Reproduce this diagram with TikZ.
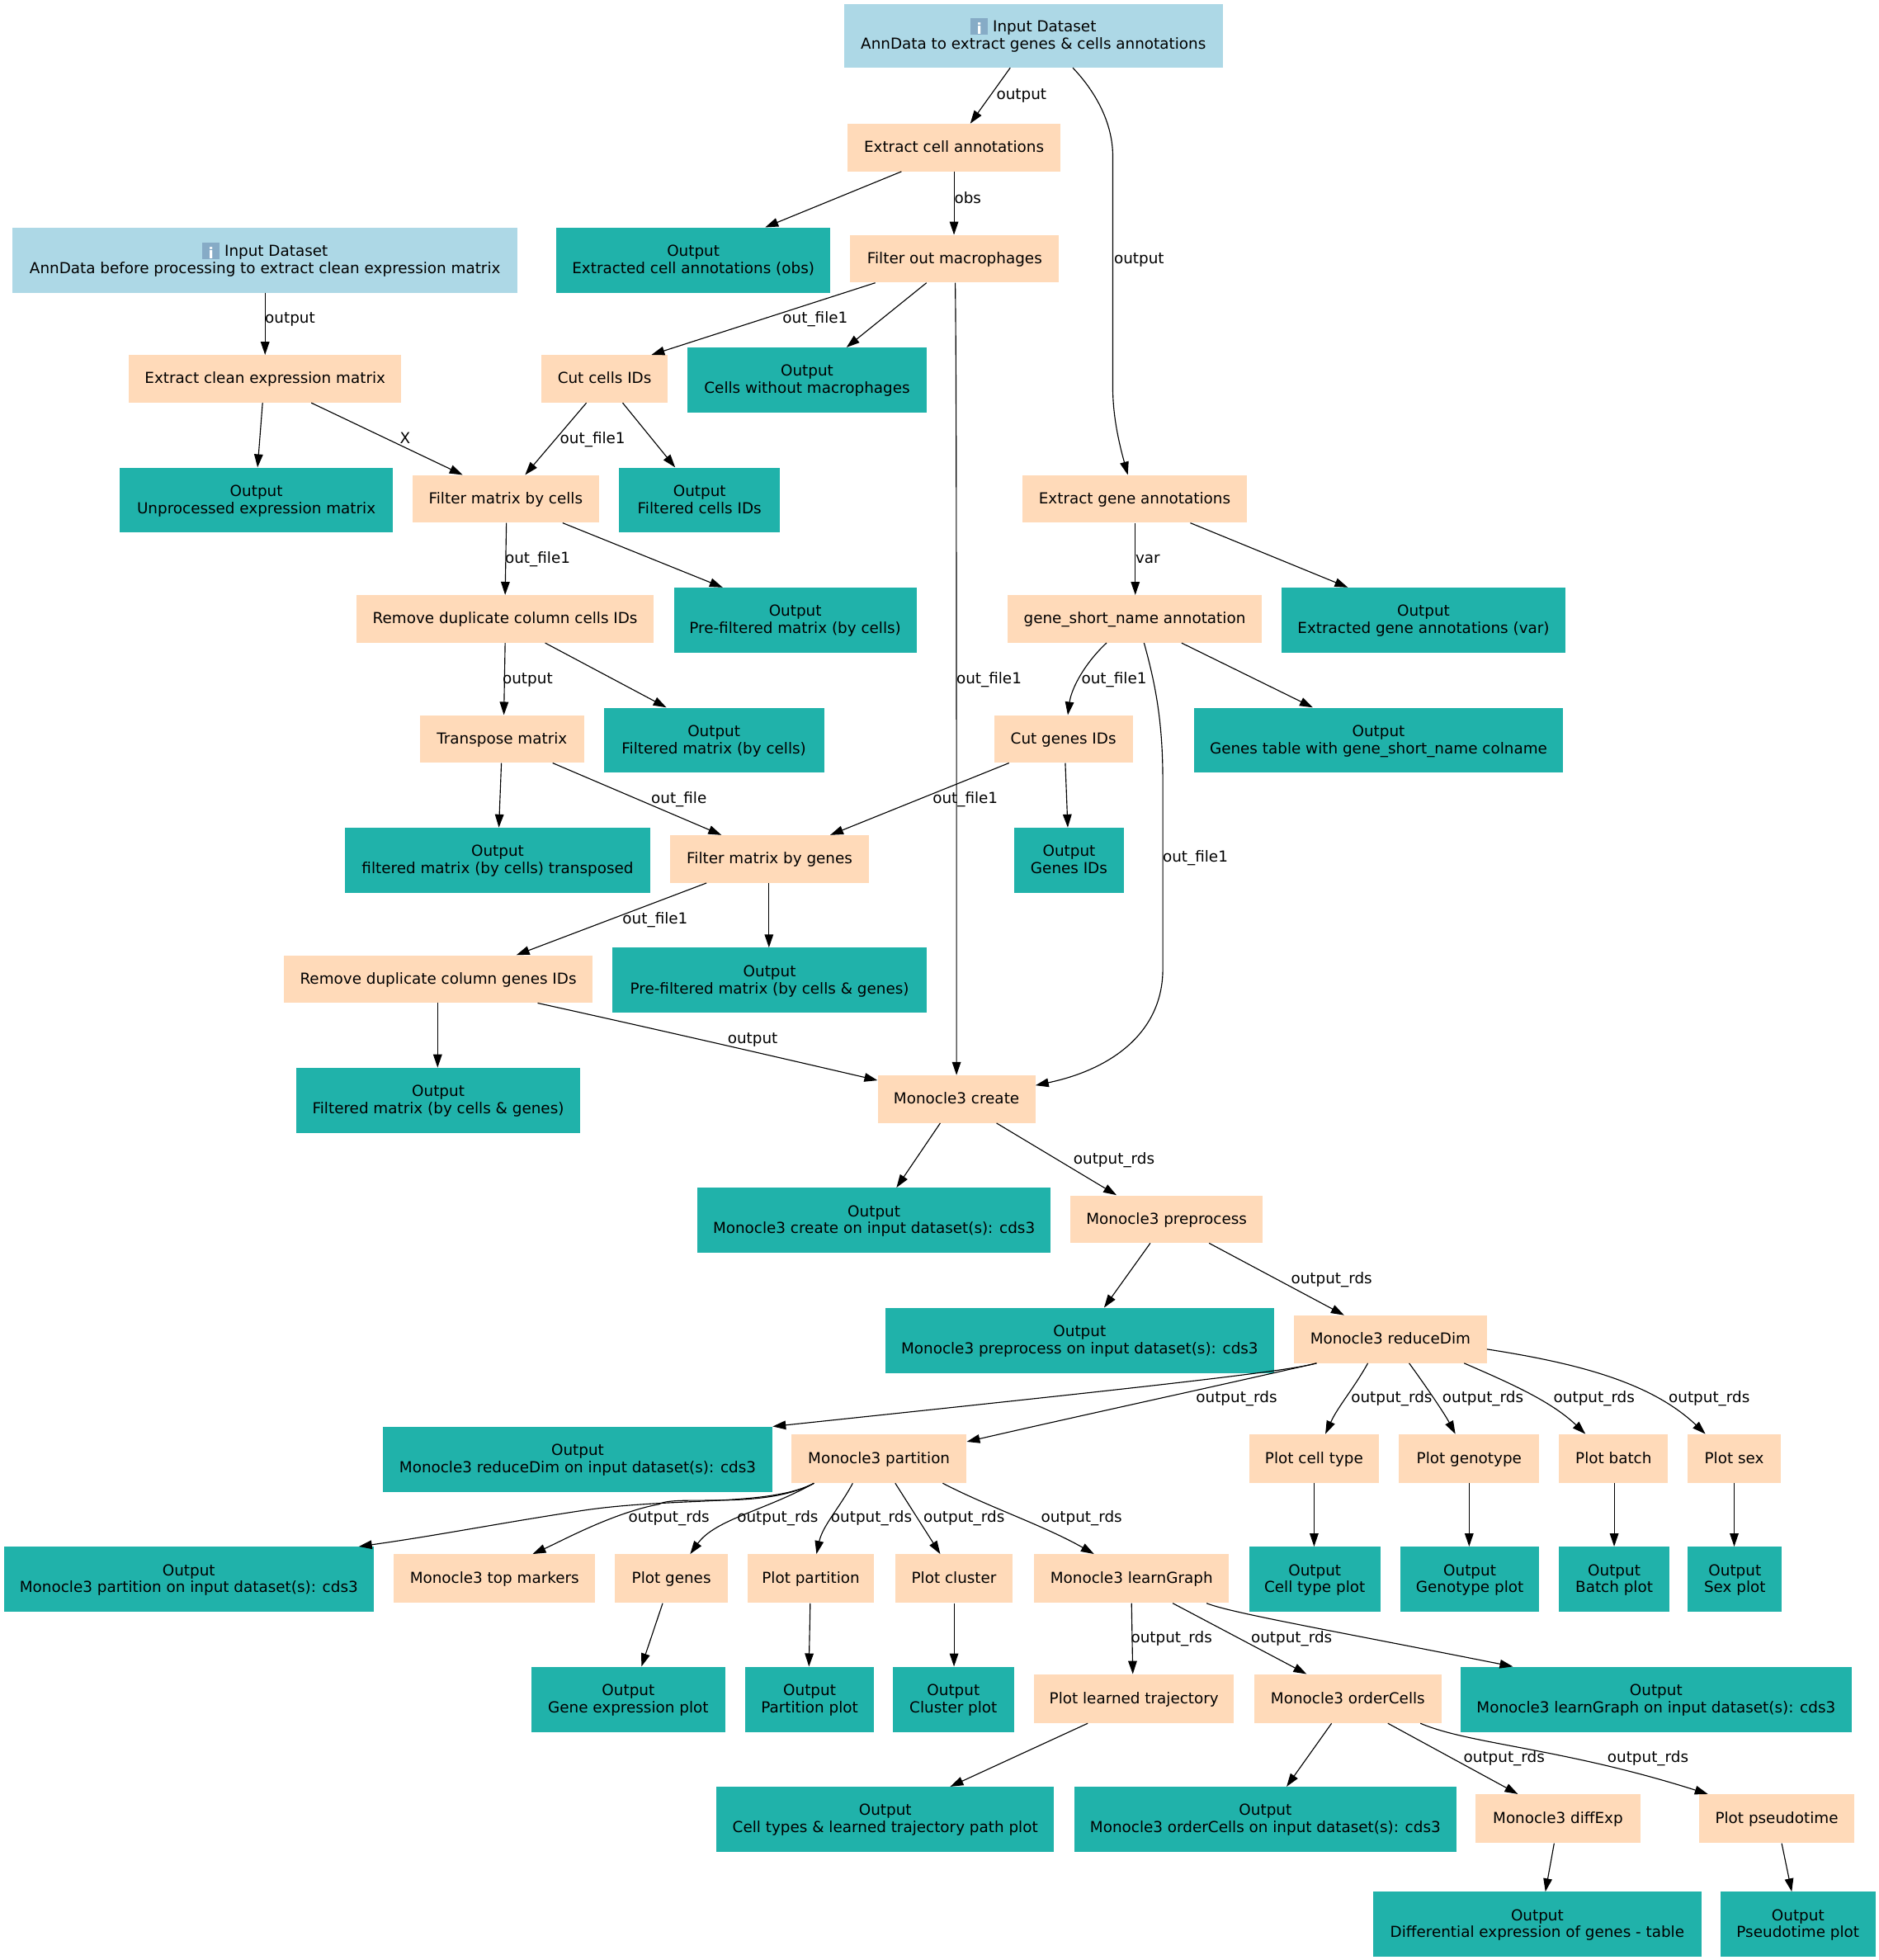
\documentclass[tikz,border=0pt]{standalone}
\usepackage{fontspec}
\setmainfont{DejaVu Sans}
\usetikzlibrary{arrows.meta}
\definecolor{inblue}{HTML}{ADD8E6}
\definecolor{peach}{HTML}{FFDAB9}
\definecolor{teal2}{HTML}{20B2AA}
\definecolor{iconblue}{HTML}{86ABC6}
\newcommand{\infoicon}{{\setlength{\fboxsep}{0pt}\raisebox{-2pt}{\colorbox{iconblue}{\makebox[14pt]{\rule{0pt}{13pt}\color{white}\fontsize{12}{12}\selectfont\bfseries i}}}}}
\newcommand{\toprl}{\rule{0pt}{11pt}}
\newcommand{\botrl}{\rule[-3.4pt]{0pt}{3.4pt}}
\tikzset{
  boxbase/.style={draw=none,inner sep=0pt,align=center,font=\fontsize{12.12}{13.7}\selectfont},
  inbox/.style={boxbase,fill=inblue},
  toolbox/.style={boxbase,fill=peach},
  outbox/.style={boxbase,fill=teal2},
  cn/.style={draw=black,line width=0.75pt,-{Triangle[length=10.5pt,width=7pt]},shorten >=0pt},
  lbl/.style={inner sep=0pt,yshift=0.2pt,font=\fontsize{12.12}{13.7}\selectfont}
}
% name, style, left, right, top, bottom, text
\newcommand{\bx}[7]{\pgfmathsetmacro{\bxw}{#4-#3}\pgfmathsetmacro{\bxh}{#6-#5}\pgfmathsetmacro{\bxcx}{(#3+#4)/2}\pgfmathsetmacro{\bxcy}{(#5+#6)/2}
  \node[#2,minimum width=\bxw pt,minimum height=\bxh pt] (#1) at (\bxcx,\bxcy) {\toprl#7\botrl};}
% straight connector, south of a at x=xa, north of b at x=xb
\newcommand{\cnn}[4]{\draw[cn] (#1.south -| #2,0) -- (#3.north -| #4,0);}
\newcommand{\lb}[4]{\node[lbl] (#1) at (#2,#3) {\toprl#4\botrl};}
\begin{document}
\begin{tikzpicture}[x=1pt,y=-1pt]
\useasboundingbox (0,0) rectangle (1502.2,1567.5);
% inputs
\bx{inA}{inbox}{675}{978}{3}{54}{\infoicon\ Input Dataset\\AnnData to extract genes \& cells annotations}
\bx{inB}{inbox}{10}{414}{182}{234}{\infoicon\ Input Dataset\\AnnData before processing to extract clean expression matrix}
% tools
\bx{exCell}{toolbox}{678}{848}{99}{137}{Extract cell annotations}
\bx{filtMac}{toolbox}{680}{847}{188}{226}{Filter out macrophages}
\bx{exClean}{toolbox}{103}{321}{284}{322}{Extract clean expression matrix}
\bx{cutCells}{toolbox}{433}{534}{284}{322}{Cut cells IDs}
\bx{filtCells}{toolbox}{330}{479}{380}{418}{Filter matrix by cells}
\bx{exGene}{toolbox}{818}{997}{380}{418}{Extract gene annotations}
\bx{rmCells}{toolbox}{285}{523}{476}{514}{Remove duplicate column cells IDs}
\bx{geneShort}{toolbox}{806}{1009}{476}{514}{gene\_short\_name annotation}
\bx{transp}{toolbox}{336}{467}{572}{610}{Transpose matrix}
\bx{cutGenes}{toolbox}{795}{906}{572}{610}{Cut genes IDs}
\bx{filtGenes}{toolbox}{536}{695}{668}{706}{Filter matrix by genes}
\bx{rmGenes}{toolbox}{227}{474}{764}{802}{Remove duplicate column genes IDs}
\bx{create}{toolbox}{702}{828}{860}{898}{Monocle3 create}
\bx{prep}{toolbox}{856}{1010}{956}{994}{Monocle3 preprocess}
\bx{rdim}{toolbox}{1035}{1189}{1052}{1090}{Monocle3 reduceDim}
\bx{part}{toolbox}{633}{773}{1147}{1186}{Monocle3 partition}
\bx{pCell}{toolbox}{999}{1103}{1147}{1186}{Plot cell type}
\bx{pGeno}{toolbox}{1119}{1231}{1147}{1186}{Plot genotype}
\bx{pBatch}{toolbox}{1247}{1334}{1147}{1186}{Plot batch}
\bx{pSex}{toolbox}{1350}{1424}{1147}{1186}{Plot sex}
\bx{topM}{toolbox}{315}{476}{1243}{1282}{Monocle3 top markers}
\bx{pGenes}{toolbox}{492}{582}{1243}{1282}{Plot genes}
\bx{pPart}{toolbox}{598}{699}{1243}{1282}{Plot partition}
\bx{pClus}{toolbox}{716}{810}{1243}{1282}{Plot cluster}
\bx{learn}{toolbox}{827}{983}{1243}{1282}{Monocle3 learnGraph}
\bx{pTraj}{toolbox}{827}{987}{1339}{1378}{Plot learned trajectory}
\bx{order}{toolbox}{1003}{1153}{1339}{1378}{Monocle3 orderCells}
\bx{diffE}{toolbox}{1180}{1312}{1435}{1474}{Monocle3 diffExp}
\bx{pPseudo}{toolbox}{1359}{1483}{1435}{1474}{Plot pseudotime}
% outputs
\bx{oObs}{outbox}{445}{664}{182}{234}{Output\\Extracted cell annotations (obs)}
\bx{oMac}{outbox}{550}{741}{278}{330}{Output\\Cells without macrophages}
\bx{oUnp}{outbox}{96}{314}{374}{426}{Output\\Unprocessed expression matrix}
\bx{oCellIDs}{outbox}{495}{624}{374}{426}{Output\\Filtered cells IDs}
\bx{oPreC}{outbox}{539}{733}{470}{522}{Output\\Pre-filtered matrix (by cells)}
\bx{oVar}{outbox}{1025}{1252}{470}{522}{Output\\Extracted gene annotations (var)}
\bx{oFiltC}{outbox}{483}{659}{566}{618}{Output\\Filtered matrix (by cells)}
\bx{oTable}{outbox}{955}{1250}{566}{618}{Output\\Genes table with gene\_short\_name colname}
\bx{oTrans}{outbox}{276}{520}{662}{714}{Output\\filtered matrix (by cells) transposed}
\bx{oGeneIDs}{outbox}{811}{899}{662}{714}{Output\\Genes IDs}
\bx{oPreCG}{outbox}{490}{741}{758}{810}{Output\\Pre-filtered matrix (by cells \& genes)}
\bx{oFiltCG}{outbox}{237}{464}{854}{906}{Output\\Filtered matrix (by cells \& genes)}
\bx{oCreate}{outbox}{558}{840}{950}{1002}{Output\\Monocle3 create on input dataset(s): cds3}
\bx{oPrep}{outbox}{708}{1019}{1046}{1098}{Output\\Monocle3 preprocess on input dataset(s): cds3}
\bx{oRdim}{outbox}{306}{618}{1141}{1193}{Output\\Monocle3 reduceDim on input dataset(s): cds3}
\bx{oPart}{outbox}{3}{299}{1237}{1289}{Output\\Monocle3 partition on input dataset(s): cds3}
\bx{oCellT}{outbox}{999}{1104}{1237}{1289}{Output\\Cell type plot}
\bx{oGeno}{outbox}{1120}{1231}{1237}{1289}{Output\\Genotype plot}
\bx{oBatch}{outbox}{1247}{1335}{1237}{1289}{Output\\Batch plot}
\bx{oSex}{outbox}{1350}{1425}{1237}{1289}{Output\\Sex plot}
\bx{oGeneE}{outbox}{425}{580}{1333}{1385}{Output\\Gene expression plot}
\bx{oPartP}{outbox}{596}{699}{1333}{1385}{Output\\Partition plot}
\bx{oClus}{outbox}{714}{811}{1333}{1385}{Output\\Cluster plot}
\bx{oLearn}{outbox}{1168}{1481}{1333}{1385}{Output\\Monocle3 learnGraph on input dataset(s): cds3}
\bx{oTraj}{outbox}{573}{843}{1429}{1481}{Output\\Cell types \& learned trajectory path plot}
\bx{oOrder}{outbox}{859}{1165}{1429}{1481}{Output\\Monocle3 orderCells on input dataset(s): cds3}
\bx{oDiff}{outbox}{1098}{1361}{1513}{1565}{Output\\Differential expression of genes - table}
\bx{oPseudo}{outbox}{1376}{1500}{1513}{1565}{Output\\Pseudotime plot}
% straight connectors
\cnn{inA}{808}{exCell}{776}
\cnn{exCell}{721}{oObs}{612}
\cnn{exCell}{763}{filtMac}{763}
\cnn{filtMac}{700}{cutCells}{521}
\cnn{filtMac}{741}{oMac}{677}
\cnn{inB}{212}{exClean}{212}
\cnn{exClean}{210}{oUnp}{206}
\cnn{exClean}{249}{filtCells}{370}
\cnn{cutCells}{469}{filtCells}{420}
\cnn{cutCells}{498}{oCellIDs}{540}
\cnn{filtCells}{405}{rmCells}{404}
\cnn{filtCells}{450}{oPreC}{578}
\cnn{exGene}{908}{geneShort}{908}
\cnn{exGene}{952}{oVar}{1078}
\cnn{rmCells}{404}{transp}{403}
\cnn{rmCells}{436}{oFiltC}{533}
\cnn{geneShort}{945}{oTable}{1050}
\cnn{transp}{401}{oTrans}{399}
\cnn{transp}{442}{filtGenes}{577}
\cnn{cutGenes}{807}{filtGenes}{664}
\cnn{cutGenes}{852}{oGeneIDs}{854}
\cnn{filtGenes}{565}{rmGenes}{413}
\cnn{filtGenes}{615}{oPreCG}{615}
\cnn{rmGenes}{350}{oFiltCG}{350}
\cnn{create}{752}{oCreate}{717}
\cnn{create}{797}{prep}{893}
\cnn{prep}{920}{oPrep}{883}
\cnn{prep}{967}{rdim}{1075}
\cnn{part}{716}{pClus}{752}
\cnn{pCell}{1051}{oCellT}{1051}
\cnn{pGeno}{1175}{oGeno}{1175}
\cnn{pBatch}{1291}{oBatch}{1291}
\cnn{pSex}{1387}{oSex}{1387}
\cnn{pGenes}{530}{oGeneE}{513}
\cnn{pPart}{648}{oPartP}{647}
\cnn{pClus}{763}{oClus}{763}
\cnn{learn}{905}{pTraj}{906}
\cnn{learn}{938}{order}{1045}
\cnn{pTraj}{870}{oTraj}{760}
\cnn{order}{1065}{oOrder}{1029}
\cnn{order}{1110}{diffE}{1214}
\cnn{diffE}{1243}{oDiff}{1236}
\cnn{pPseudo}{1425}{oPseudo}{1433}
% curved connectors
\draw[cn] (inA.south -| 858,0) .. controls (875,72) and (890,97) .. (890,125) -- (890,310) .. controls (890,335) and (896,358) .. (exGene.north -| 902,0);
\draw[cn] (filtMac.south -| 764,0) .. controls (765,300) and (765,500) .. (create.north -| 765,0);
\draw[cn] (geneShort.south -| 885,0) .. controls (868,530) and (857,550) .. (cutGenes.north -| 854,0);
\draw[cn] (geneShort.south -| 915,0) .. controls (925,550) and (930,580) .. (930,625) -- (930,775) .. controls (930,825) and (890,855) .. (create.east |- 0,868);
\draw[cn] (rmGenes.south -| 430,0) .. controls (520,822) and (620,845) .. (create.west |- 0,864);
\draw[cn] (rdim.south -| 1053,0) .. controls (1030,1097) and (900,1111) .. (oRdim.north -| 618,0);
\draw[cn] (rdim.south -| 1053,0) .. controls (980,1107) and (860,1133) .. (part.east |- 0,1153);
\draw[cn] (rdim.south -| 1094,0) .. controls (1083,1110) and (1070,1125) .. (pCell.north -| 1060,0);
\draw[cn] (rdim.south -| 1127,0) .. controls (1140,1108) and (1155,1130) .. (pGeno.north -| 1164,0);
\draw[cn] (rdim.south -| 1171,0) .. controls (1205,1105) and (1240,1120) .. (pBatch.north -| 1268,0);
\draw[cn] (rdim.east |- 0,1079) .. controls (1260,1090) and (1320,1105) .. (pSex.north -| 1364,0);
\draw[cn] (part.south -| 651,0) .. controls (615,1205) and (540,1197) .. (466,1208) .. controls (400,1218) and (350,1228) .. (oPart.north -| 287,0);
\draw[cn] (part.south -| 651,0) .. controls (610,1208) and (540,1195) .. (527,1203) .. controls (490,1210) and (450,1232) .. (topM.north -| 426,0);
\draw[cn] (part.south -| 651,0) .. controls (612,1208) and (572,1215) .. (pGenes.north -| 552,0);
\draw[cn] (part.south -| 682,0) .. controls (672,1205) and (658,1220) .. (pPart.north -| 653,0);
\draw[cn] (part.south -| 754,0) .. controls (790,1205) and (835,1220) .. (learn.north -| 875,0);
\draw[cn] (learn.south -| 965,0) .. controls (985,1290) and (1060,1303) .. (oLearn.north -| 1210,0);
\draw[cn] (order.south -| 1136,0) .. controls (1175,1395) and (1250,1398) .. (pPseudo.north -| 1366,0);
% labels
\lb{l1}{817}{76}{output}
\lb{l2}{911}{207}{output}
\lb{l3}{774}{159}{obs}
\lb{l4}{652}{255}{out\_file1}
\lb{l5}{791}{543}{out\_file1}
\lb{l6}{232}{255}{output}
\lb{l7}{324}{351}{X}
\lb{l8}{474}{351}{out\_file1}
\lb{l9}{430}{447}{out\_file1}
\lb{l10}{918}{447}{var}
\lb{l11}{422}{543}{output}
\lb{l12}{891}{543}{out\_file1}
\lb{l13}{956}{686}{out\_file1}
\lb{l14}{543}{639}{out\_file}
\lb{l15}{772}{639}{out\_file1}
\lb{l16}{524}{735}{out\_file1}
\lb{l17}{602}{831}{output}
\lb{l18}{891}{927}{output\_rds}
\lb{l19}{1065}{1023}{output\_rds}
\lb{l20}{989}{1118}{output\_rds}
\lb{l21}{1113}{1118}{output\_rds}
\lb{l22}{1186}{1118}{output\_rds}
\lb{l23}{1275}{1118}{output\_rds}
\lb{l24}{1367}{1118}{output\_rds}
\lb{l25}{535}{1214}{output\_rds}
\lb{l26}{622}{1214}{output\_rds}
\lb{l27}{697}{1214}{output\_rds}
\lb{l28}{771}{1214}{output\_rds}
\lb{l29}{865}{1214}{output\_rds}
\lb{l30}{937}{1310}{output\_rds}
\lb{l31}{1033}{1310}{output\_rds}
\lb{l32}{1203}{1406}{output\_rds}
\lb{l33}{1318}{1406}{output\_rds}
\end{tikzpicture}
\end{document}
